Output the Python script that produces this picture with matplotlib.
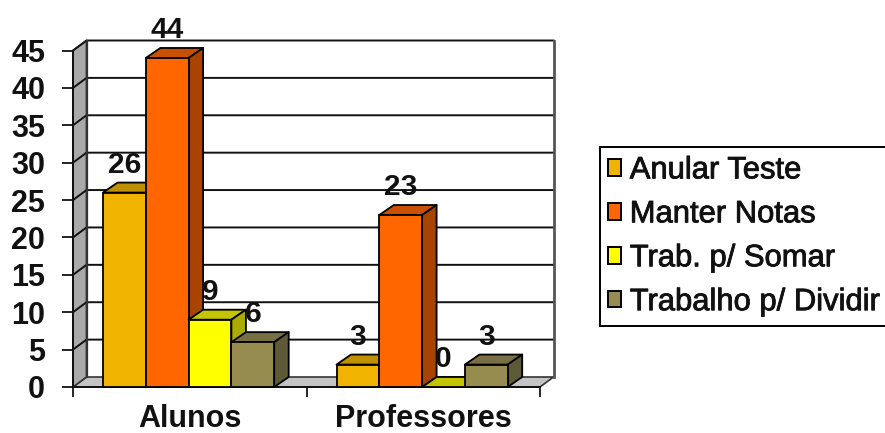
import matplotlib
matplotlib.use("Agg")
import matplotlib.pyplot as plt
import matplotlib.patheffects as pe
from matplotlib.patches import Patch, Polygon

plt.rcParams["font.family"] = ["Liberation Sans", "DejaVu Sans"]

categories = ["Alunos", "Professores"]
series_names = ["Anular Teste", "Manter Notas", "Trab. p/ Somar", "Trabalho p/ Dividir"]
anular_teste = [26, 3]
manter_notas = [44, 23]
trab_somar = [9, 0]
trab_dividir = [6, 3]
y_ticks = list(range(0, 50, 5))

front_colors = ["#F0B400", "#FF6600", "#FFFF00", "#968C50"]
top_colors = ["#BF9000", "#C85000", "#C4C400", "#787044"]
side_colors = ["#8F6C00", "#A84400", "#ABAB00", "#5E5A38"]

W, H = 885, 433
fig = plt.figure(figsize=(W / 100, H / 100), dpi=100, facecolor="white")
ax = fig.add_axes([73 / W, (H - 387) / H, 467 / W, 336.5 / H])
ax.set_xlim(0, 2)
ax.set_ylim(0, 45)
ax.patch.set_visible(False)
for spine in ax.spines.values():
    spine.set_visible(False)

# Oblique projection offset of the 3-D box, in data units
px_x = 2 / 467
px_y = 45 / 336.5
depth_x = 13.5 * px_x
depth_y = 10 * px_y
bar_depth_x = 14.5 * px_x
bar_width = 42.8 * px_x
group_pad = 30 * px_x


def face(points, color, z, lw=1.3, edge="black"):
    ax.add_patch(Polygon(points, closed=True, facecolor=color, edgecolor=edge,
                         linewidth=lw, zorder=z, clip_on=False, joinstyle="round"))


# Floor, side wall and back wall
face([(0, 0), (2, 0), (2 + depth_x, depth_y), (depth_x, depth_y)], "#C4C4C4", 1, lw=1.2, edge="#333333")
face([(0, 0), (depth_x, depth_y), (depth_x, 45 + depth_y), (0, 45)], "#A9A9A9", 1, lw=1.2, edge="#333333")
for y in y_ticks[1:]:
    ax.plot([0, depth_x, 2 + depth_x], [y, y + depth_y, y + depth_y], color="#111111",
            lw=1.4, zorder=2, clip_on=False)
ax.plot([depth_x, depth_x], [depth_y, 45 + depth_y], color="#333333", lw=1.6, zorder=2, clip_on=False)
ax.plot([2 + depth_x, 2 + depth_x], [depth_y, 45 + depth_y], color="#555555", lw=2.0, zorder=2, clip_on=False)
ax.plot([0, 0], [0, 45], color="#111111", lw=1.4, zorder=3, clip_on=False)
ax.plot([0, 2], [0, 0], color="#111111", lw=1.4, zorder=3, clip_on=False)

# Bars, painted left to right so that each one hides its neighbour's depth
all_series = [anular_teste, manter_notas, trab_somar, trab_dividir]
z = 4
for g in range(len(categories)):
    for s, values in enumerate(all_series):
        v = values[g]
        x0 = g + group_pad + s * bar_width
        x1 = x0 + bar_width
        face([(x0, v), (x1, v), (x1 + bar_depth_x, v + depth_y), (x0 + bar_depth_x, v + depth_y)],
             top_colors[s], z)
        if v > 0:
            face([(x1, 0), (x1 + bar_depth_x, depth_y), (x1 + bar_depth_x, v + depth_y), (x1, v)],
                 side_colors[s], z)
            ax.bar(x0, v, width=bar_width, align="edge", color=front_colors[s],
                   edgecolor="black", linewidth=1.3, zorder=z + 0.5, clip_on=False)
        z += 1

# Value labels above each bar
for g in range(len(categories)):
    for s, values in enumerate(all_series):
        v = values[g]
        xc = g + group_pad + (s + 0.5) * bar_width
        ax.annotate(str(v), (xc, v), xytext=(0, 20), textcoords="offset points",
                    ha="center", va="center", fontsize=21.5, color="#111111",
                    fontweight="bold", zorder=50, annotation_clip=False)

# Axes ticks and labels
ax.set_yticks(y_ticks)
ax.set_xticks([0, 1, 2])
ax.set_xticklabels([])
ax.set_xticks([0.5, 1.5], minor=True)
ax.set_xticklabels(categories, minor=True, fontsize=22, fontweight="bold", color="#111111")
ax.tick_params(axis="y", length=8, width=1.2, pad=12, labelsize=22, labelcolor="#111111")
ax.tick_params(axis="x", which="major", length=7, width=1.2)
ax.tick_params(axis="x", which="minor", length=0, pad=12.3)
for label in ax.get_yticklabels():
    label.set_fontweight("bold")

handles = [Patch(facecolor=c, edgecolor="black", linewidth=1.4) for c in front_colors]
legend = ax.legend(handles, series_names, loc="upper left",
                   bbox_to_anchor=(600 / W, (H - 147) / H), bbox_transform=fig.transFigure,
                   fontsize=22.3, frameon=True, fancybox=False, framealpha=1, edgecolor="black",
                   borderpad=0.27, borderaxespad=0, handlelength=0.42, handleheight=0.45,
                   handletextpad=0.27, labelspacing=0.45)
legend.get_frame().set_linewidth(1.4)
for text in legend.get_texts():
    text.set_color("#111111")
    text.set_path_effects([pe.withStroke(linewidth=0.6, foreground="#111111")])

fig.savefig("out.png", dpi=100, facecolor="white")
